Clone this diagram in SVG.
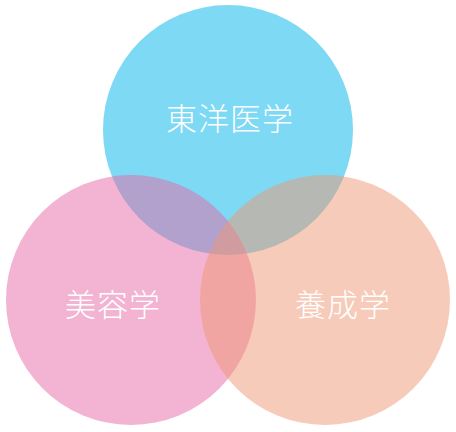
<svg xmlns="http://www.w3.org/2000/svg" width="456" height="432" viewBox="0 0 456 432">
<style>
text{font-family:"Noto Sans CJK JP","Noto Sans CJK SC",sans-serif;font-size:31px;font-weight:300;fill:#ffffff;text-anchor:middle;letter-spacing:1px}
</style>
<rect width="456" height="432" fill="#ffffff"/>
<g id="top">
<circle cx="228" cy="130" r="125" fill="#7dd9f4"/>
</g>
<g id="left">
<circle cx="131" cy="300" r="125" fill="#e767a5" fill-opacity="0.5"/>
</g>
<g id="right">
<circle cx="325" cy="300" r="125" fill="#ef9773" fill-opacity="0.5"/>
</g>
<g id="labels">
<text x="230" y="130">東洋医学</text>
<text x="113" y="316">美容学</text>
<text x="343" y="316">養成学</text>
</g>
<g id="connectors"/>
</svg>
